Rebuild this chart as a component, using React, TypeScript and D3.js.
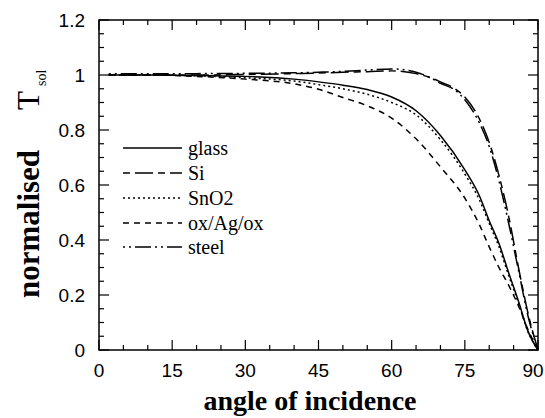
import React from "react";
import * as d3 from "d3";

const angles = [2, 10, 20, 30, 40, 45, 50, 55, 60, 65, 70, 75, 78, 80, 82, 84, 86, 88, 90];
const glass = [1.0, 1.0, 0.998, 0.995, 0.985, 0.975, 0.963, 0.947, 0.92, 0.87, 0.78, 0.655, 0.56, 0.47, 0.387, 0.28, 0.177, 0.066, 0.0];
const sno2 = [1.0, 1.0, 0.997, 0.99, 0.978, 0.965, 0.95, 0.93, 0.9, 0.855, 0.765, 0.64, 0.545, 0.46, 0.375, 0.27, 0.17, 0.064, 0.0];
const oxagox = [1.0, 1.0, 0.995, 0.985, 0.968, 0.948, 0.918, 0.888, 0.843, 0.768, 0.666, 0.552, 0.455, 0.375, 0.3, 0.235, 0.16, 0.072, 0.0];
const steelAngles = [2, 10, 20, 30, 40, 45, 50, 55, 60, 65, 68, 70, 73, 75, 78, 80, 82, 84, 86, 88, 90];
const steel = [1.005, 1.005, 1.005, 1.006, 1.008, 1.01, 1.013, 1.018, 1.022, 1.01, 0.99, 0.97, 0.945, 0.91, 0.825, 0.74, 0.615, 0.46, 0.29, 0.12, 0.0];
const si = [1.0, 1.0, 1.0, 1.002, 1.005, 1.007, 1.01, 1.012, 1.015, 1.005, 0.99, 0.975, 0.95, 0.92, 0.84, 0.755, 0.635, 0.485, 0.3, 0.13, 0.0];

const seriesNames = ["glass", "Si", "SnO2", "ox/Ag/ox", "steel"];
const xMajorTicks = [0, 15, 30, 45, 60, 75, 90];
const yMajorTicks = [0, 0.2, 0.4, 0.6, 0.8, 1, 1.2];
const yTickLabels = ["0", "0.2", "0.4", "0.6", "0.8", "1", "1.2"];

const dashes: Record<string, string> = {
  glass: "none",
  Si: "7,5,18,5",
  SnO2: "2,3",
  "ox/Ag/ox": "6,5",
  steel: "2,4,2,4,16,4",
};

const L = 99, R = 538, T = 20, B = 350;

export default function App() {
  const x = d3.scaleLinear().domain([0, 90]).range([L, R]);
  const y = d3.scaleLinear().domain([0, 1.2]).range([B, T]);
  const line = d3
    .line<[number, number]>()
    .x((d) => x(d[0]))
    .y((d) => y(d[1]))
    .curve(d3.curveMonotoneX);

  const data: Record<string, [number, number][]> = {
    glass: angles.map((a, i) => [a, glass[i]]),
    Si: steelAngles.map((a, i) => [a, si[i]]),
    SnO2: angles.map((a, i) => [a, sno2[i]]),
    "ox/Ag/ox": angles.map((a, i) => [a, oxagox[i]]),
    steel: steelAngles.map((a, i) => [a, steel[i]]),
  };

  const xMinor = d3.range(0, 91, 5).filter((v) => v % 15 !== 0);
  const yMinor = d3.range(0, 1.2001, 0.05).filter((v) => Math.abs(v * 5 - Math.round(v * 5)) > 1e-6);

  const tickFont = "'Liberation Sans', Arial, sans-serif";
  const serif = "'Liberation Serif', 'Times New Roman', serif";

  const legendY = [148, 173, 198, 223, 247];

  return (
    <svg width={545} height={418} style={{ position: "absolute", left: 0, top: 0, background: "#fff" }}>
      <rect x={0} y={0} width={545} height={418} fill="#fff" />
      <rect x={L} y={T} width={R - L} height={B - T} fill="none" stroke="#000" strokeWidth={1.5} />
      {xMajorTicks.map((v, i) => (
        <g key={"xm" + v}>
          <line x1={x(v)} x2={x(v)} y1={B} y2={B - 10} stroke="#000" strokeWidth={1.2} />
          <line x1={x(v)} x2={x(v)} y1={T} y2={T + 10} stroke="#000" strokeWidth={1.2} />
          <text
            x={x(v)}
            dx={i === xMajorTicks.length - 1 ? -5 : 0}
            y={377}
            textAnchor="middle"
            fontFamily={tickFont}
            fontSize={19}
          >
            {v}
          </text>
        </g>
      ))}
      {xMinor.map((v) => (
        <g key={"xn" + v}>
          <line x1={x(v)} x2={x(v)} y1={B} y2={B - 5} stroke="#000" strokeWidth={1.2} />
          <line x1={x(v)} x2={x(v)} y1={T} y2={T + 5} stroke="#000" strokeWidth={1.2} />
        </g>
      ))}
      {yMajorTicks.map((v, i) => (
        <g key={"ym" + v}>
          <line x1={L} x2={L + 10} y1={y(v)} y2={y(v)} stroke="#000" strokeWidth={1.2} />
          <line x1={R} x2={R - 10} y1={y(v)} y2={y(v)} stroke="#000" strokeWidth={1.2} />
          <text x={85} y={y(v) + 7} textAnchor="end" fontFamily={tickFont} fontSize={19}>
            {yTickLabels[i]}
          </text>
        </g>
      ))}
      {yMinor.map((v) => (
        <g key={"yn" + v}>
          <line x1={L} x2={L + 5} y1={y(v)} y2={y(v)} stroke="#000" strokeWidth={1.2} />
          <line x1={R} x2={R - 5} y1={y(v)} y2={y(v)} stroke="#000" strokeWidth={1.2} />
        </g>
      ))}
      {seriesNames.map((n) => (
        <path
          key={n}
          d={line(data[n]) || ""}
          fill="none"
          stroke="#000"
          strokeWidth={1.5}
          strokeDasharray={dashes[n]}
        />
      ))}
      {seriesNames.map((n, i) => (
        <g key={"lg" + n}>
          <line x1={123} x2={182} y1={legendY[i]} y2={legendY[i]} stroke="#000" strokeWidth={1.5} strokeDasharray={dashes[n]} />
          <text x={188} y={legendY[i] + 7} fontFamily={serif} fontSize={20}>
            {n}
          </text>
        </g>
      ))}
      <text x={310} y={410} textAnchor="middle" fontFamily={serif} fontWeight="bold" fontSize={28}>
        angle of incidence
      </text>
      <text transform="translate(39,298) rotate(-90)" fontFamily={serif} fontSize={31}>
        <tspan fontWeight="bold">normalised</tspan>
        <tspan dx={40}>T</tspan>
        <tspan dx={5} dy={7} fontSize={14}>sol</tspan>
      </text>
    </svg>
  );
}
